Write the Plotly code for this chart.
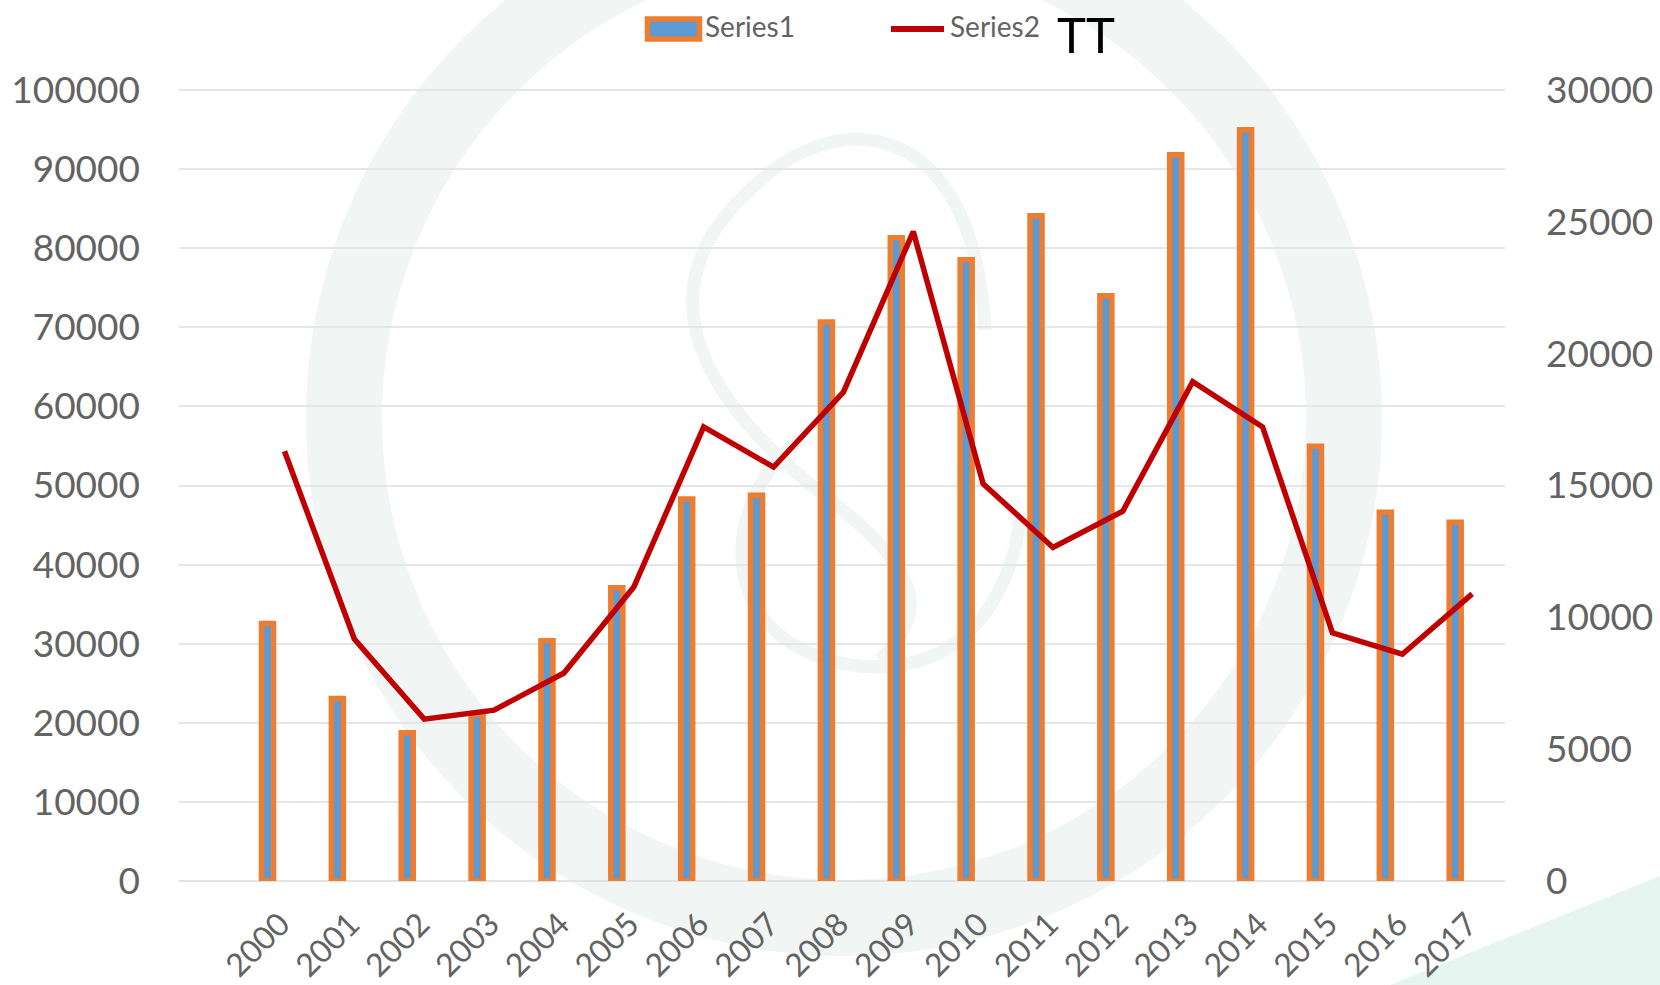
import plotly.graph_objects as go

years = list(range(2000, 2018))
series1 = [32550, 23070, 18740, 21050, 30370, 37060, 48300, 48760, 70670,
           81320, 78530, 84100, 74000, 91800, 94970, 54950, 46610, 45350]
series2 = [16300, 9180, 6140, 6480, 7890, 11150, 17220, 15700, 18540,
           24630, 15070, 12650, 14030, 18940, 17220, 9410, 8600, 10890]
left_ticks = list(range(0, 100001, 10000))
right_ticks = list(range(0, 30001, 5000))

W, H = 1660, 985
L, R, T, B = 179, 1505, 86, 881
FONT = "Lato"
GREY = "#636363"
WM = "#f1f6f4"


def px(x):
    return (x - L) / (R - L)


def py(y):
    return (B - y) / (B - T)


shapes = [
    # watermark: ring, emblem, corner
    dict(type="circle", xref="paper", yref="paper", layer="below",
         x0=px(844 - 500), x1=px(844 + 500), y0=py(418 + 500), y1=py(418 - 500),
         line=dict(color=WM, width=76), fillcolor="rgba(0,0,0,0)"),
    dict(type="path", xref="paper", yref="paper", layer="below",
         path="M {} {} C {} {} {} {} {} {} C {} {} {} {} {} {} C {} {} {} {} {} {}".format(
             px(985), py(330), px(975), py(120), px(840), py(100), px(750), py(190),
             px(640), py(290), px(700), py(400), px(830), py(500),
             px(920), py(570), px(930), py(610), px(880), py(660)),
         line=dict(color=WM, width=13), fillcolor="rgba(0,0,0,0)"),
    dict(type="path", xref="paper", yref="paper", layer="below",
         path="M {} {} C {} {} {} {} {} {} C {} {} {} {} {} {}".format(
             px(800), py(440), px(720), py(500), px(710), py(640), px(850), py(665),
             px(960), py(680), px(1010), py(600), px(1020), py(520)),
         line=dict(color=WM, width=13), fillcolor="rgba(0,0,0,0)"),
    dict(type="path", xref="paper", yref="paper", layer="below",
         path="M {} {} L {} {} L {} {} L {} {} Z".format(
             px(1390), py(985), px(1660), py(876), px(1660), py(985), px(1390), py(985)),
         line=dict(width=0), fillcolor="#e6f5f0"),
    # legend keys
    dict(type="rect", xref="paper", yref="paper",
         x0=px(647.5), x1=px(699.5), y0=py(39), y1=py(19),
         fillcolor="#5b9bd5", line=dict(color="#ed7d31", width=5.5)),
    dict(type="line", xref="paper", yref="paper",
         x0=px(891), x1=px(944), y0=py(29), y1=py(29),
         line=dict(color="#c00000", width=6)),
]

annotations = [
    dict(text="Series1", x=px(704), y=py(26), xref="paper", yref="paper",
         xanchor="left", yanchor="middle", showarrow=False, borderpad=0,
         font=dict(family=FONT, size=28, color=GREY)),
    dict(text="Series2", x=px(949), y=py(26), xref="paper", yref="paper",
         xanchor="left", yanchor="middle", showarrow=False, borderpad=0,
         font=dict(family=FONT, size=28, color=GREY)),
    dict(text="TT", x=px(1056), y=py(34), xref="paper", yref="paper",
         xanchor="left", yanchor="middle", showarrow=False, borderpad=0,
         font=dict(family=FONT, size=49, color="#000000")),
]

fig = go.Figure()
fig.add_bar(x=years, y=series1, name="Series1", width=0.172, offset=-0.329,
            marker=dict(color="#5b9bd5", line=dict(color="#ed7d31", width=5.5)),
            yaxis="y")
fig.add_scatter(x=years, y=series2, name="Series2", mode="lines", yaxis="y2",
                line=dict(color="#c00000", width=5.5, shape="linear"))

fig.update_layout(
    width=W, height=H, autosize=False,
    margin=dict(l=L, r=W - R, t=T, b=H - B, pad=0, autoexpand=False),
    paper_bgcolor="white", plot_bgcolor="rgba(0,0,0,0)",
    showlegend=False, shapes=shapes, annotations=annotations,
    font=dict(family=FONT, color=GREY, size=36),
    xaxis=dict(type="linear", range=[1998.49, 2017.47], tickmode="array",
               tickvals=years, ticktext=[str(y) for y in years], tickangle=-45,
               automargin=False, showgrid=False, zeroline=False, showline=False,
               ticks="", ticklabelstandoff=17, ticklabelshift=-4,
               tickfont=dict(size=32, color=GREY)),
    yaxis=dict(range=[0, 100506], tickmode="array", tickvals=left_ticks,
               automargin=False, tickformat="d", gridcolor="#e6e6e6", gridwidth=1.5,
               zeroline=True, zerolinecolor="#e2e2e2", zerolinewidth=1.5,
               showline=False, ticks="", ticklabelstandoff=38,
               tickfont=dict(size=37, color=GREY)),
    yaxis2=dict(range=[0, 30152], overlaying="y", side="right", tickmode="array",
                automargin=False, tickvals=right_ticks, tickformat="d", showgrid=False,
                zeroline=False, showline=False, ticks="", ticklabelstandoff=40,
                tickfont=dict(size=37, color=GREY)),
)

fig.write_html("out.html", config={"displayModeBar": False}, post_script=(
    "document.body.style.margin='0';"
    "document.documentElement.style.overflow='hidden';"
))
